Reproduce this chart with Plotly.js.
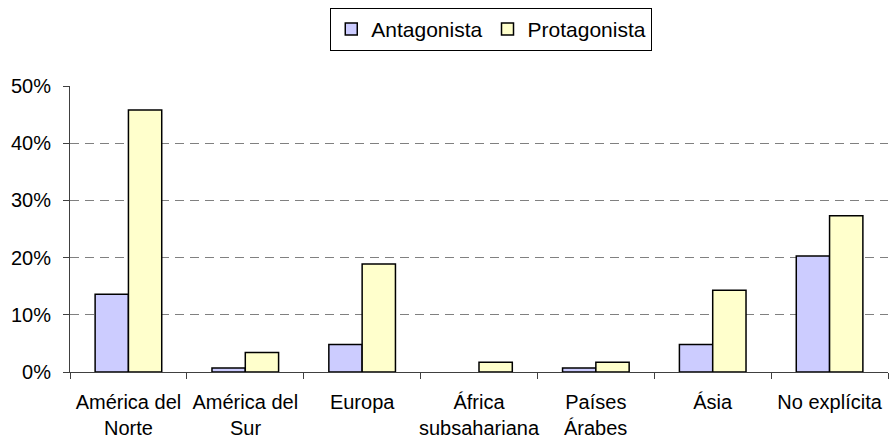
<!DOCTYPE html>
<html>
<head>
<meta charset="utf-8">
<script src="https://cdn.plot.ly/plotly-3.0.1.min.js"></script>
<style>html,body{margin:0;padding:0;background:#fff;}#chart{width:889px;height:441px;}</style>
</head>
<body>
<div id="chart"></div>
<script>
const categories = ["América del Norte", "América del Sur", "Europa", "África subsahariana", "Países Árabes", "Ásia", "No explícita"];
const tickLine1 = ["América del", "América del", "Europa", "África", "Países", "Ásia", "No explícita"];
const tickLine2 = ["Norte", "Sur", "", "subsahariana", "Árabes", "", ""];
const antagonista = [13.6, 0.7, 4.8, 0, 0.7, 4.8, 20.3];
const protagonista = [45.8, 3.4, 18.9, 1.7, 1.7, 14.3, 27.3];
const yTicks = [0, 10, 20, 30, 40, 50];
const yTickLabels = ["0%", "10%", "20%", "30%", "40%", "50%"];

const font = "Liberation Sans, Arial, sans-serif";
const outline = vals => vals.map(v => (v > 0 ? 1.5 : 0));
const traces = [
  {type: "bar", name: "Antagonista", x: categories, y: antagonista,
   marker: {color: "#CCCCFF", line: {color: "#000000", width: outline(antagonista)}}},
  {type: "bar", name: "Protagonista", x: categories, y: protagonista,
   marker: {color: "#FFFFCC", line: {color: "#000000", width: outline(protagonista)}}}
];
const annotations = categories.map((c, i) => ({
  x: c, xref: "x", y: 0, yref: "paper", yanchor: "bottom", yshift: -68, borderpad: 0,
  text: tickLine2[i], showarrow: false, font: {family: font, size: 20, color: "#000000"}
})).filter(a => a.text !== "");

const layout = {
  width: 889, height: 441,
  margin: {l: 70, r: 1, t: 86, b: 69, pad: 0},
  paper_bgcolor: "#ffffff", plot_bgcolor: "#ffffff",
  font: {family: font, size: 20, color: "#000000"},
  barmode: "group", bargap: 0.43, bargroupgap: 0,
  showlegend: true,
  legend: {orientation: "h", x: 0.515, xanchor: "center", y: 1.273, yanchor: "top",
           bordercolor: "#000000", borderwidth: 1, font: {family: font, size: 21},
           traceorder: "normal", itemclick: false, tracegroupgap: 0},
  annotations: annotations,
  xaxis: {type: "category", tickvals: categories, ticktext: tickLine1,
          showline: true, linecolor: "#404040", linewidth: 1,
          ticks: "outside", tickson: "boundaries", ticklen: 6, tickcolor: "#404040",
          showgrid: false, zeroline: false, tickangle: 0, fixedrange: true,
          ticklabelstandoff: 12},
  yaxis: {range: [0, 50], tickvals: yTicks, ticktext: yTickLabels,
          showline: true, linecolor: "#404040", linewidth: 1,
          ticks: "outside", ticklen: 6, tickcolor: "#404040",
          showgrid: true, gridcolor: "#808080", gridwidth: 1, griddash: "9px,6px",
          zeroline: false, fixedrange: true, ticklabelstandoff: 8}
};
Plotly.newPlot("chart", traces, layout, {displayModeBar: false, staticPlot: true});
</script>
</body>
</html>
